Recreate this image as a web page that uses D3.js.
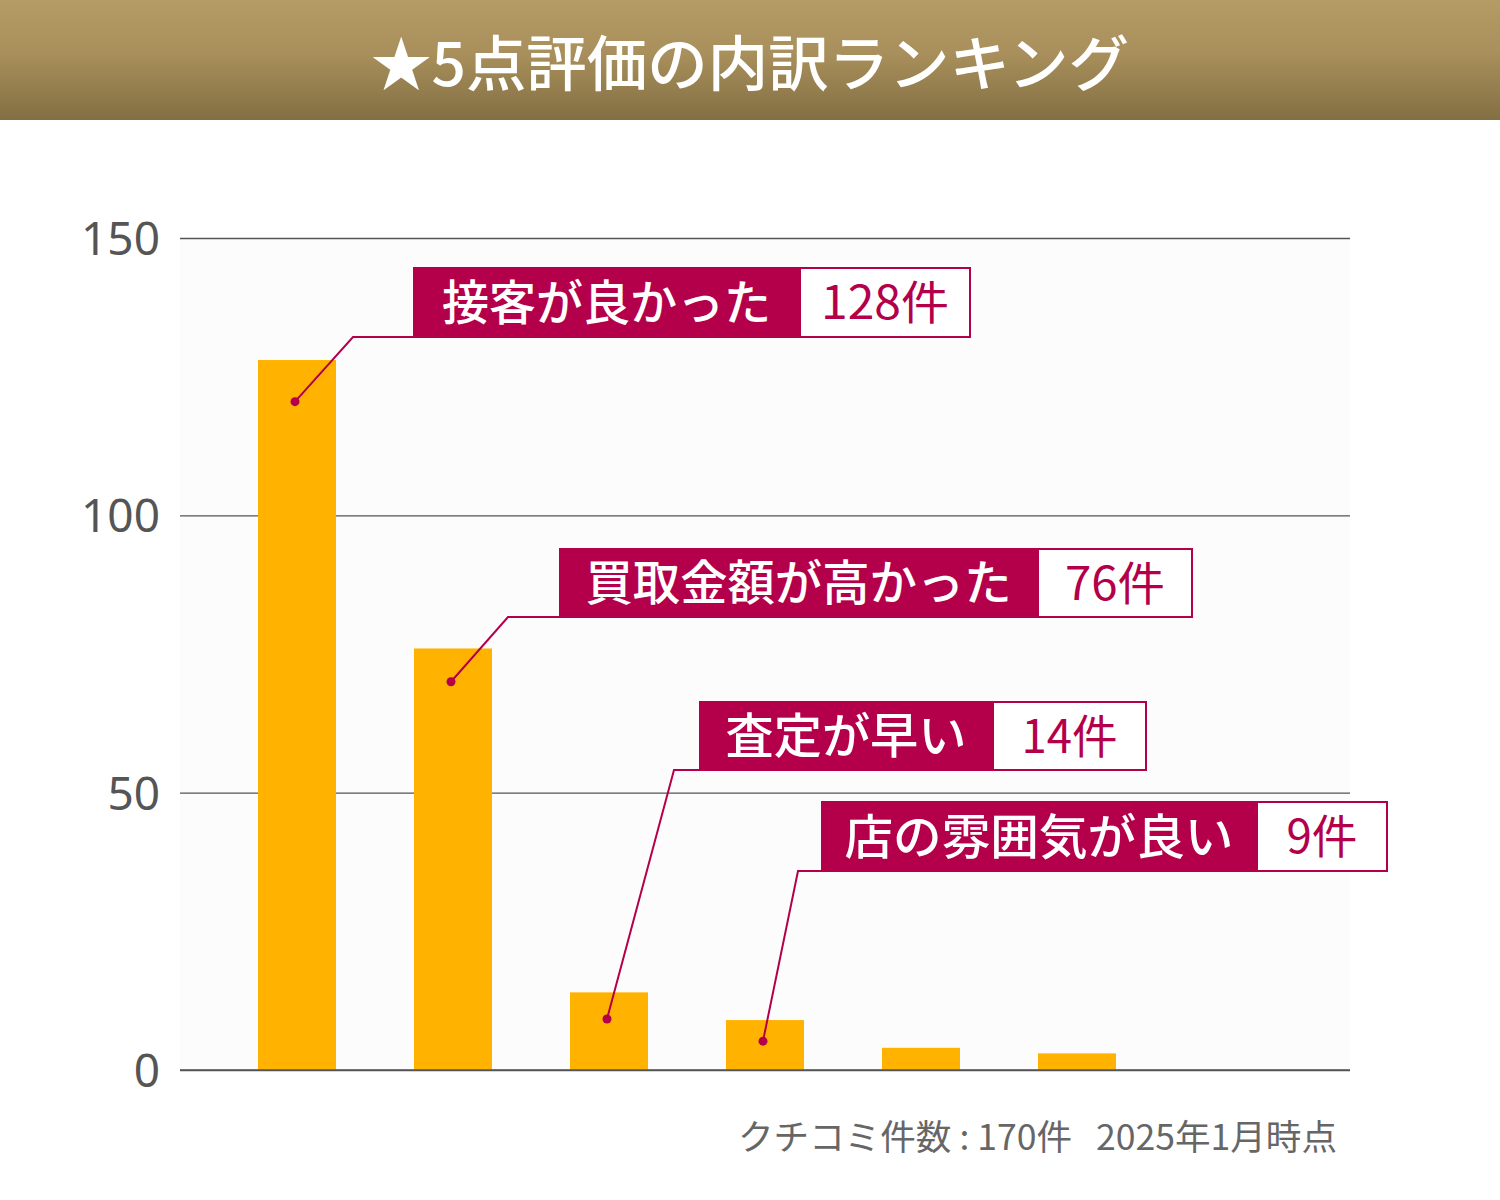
<!DOCTYPE html>
<html><head><meta charset="utf-8">
<script src="https://cdn.jsdelivr.net/npm/d3@7"></script>
<style>html,body{margin:0;padding:0;background:#fff;}svg{display:block;}</style>
</head><body>
<svg id="c" width="1500" height="1200"></svg>
<script>
// ---- data ----
const title = "★5点評価の内訳ランキング";
const ranks = ["1","2","3","4","5","6","7"];
const counts = [128, 76, 14, 9, 4, 3, 0];
const labelNames = ["接客が良かった","買取金額が高かった","査定が早い","店の雰囲気が良い"];
const labelCounts = ["128件","76件","14件","9件"];
const anchorValues = [120.5, 70, 9.2, 5.2];
const yTicks = [0, 50, 100, 150];
const footnote = "クチコミ件数 : 170件   2025年1月時点";

// ---- layout (pixels) ----
const boxLayout = [
  {x:413, y:268, w1:387, w2:170, h:69, elbowX:353},
  {x:559, y:549, w1:479, w2:154, h:68, elbowX:508},
  {x:699, y:702, w1:294, w2:153, h:68, elbowX:674},
  {x:821, y:802, w1:436, w2:130, h:69, elbowX:798}
];
const textWidths = [{t:329,n:128},{t:426,n:100},{t:241,n:96},{t:389,n:71}];

const FONT = "'Noto Sans CJK JP','Noto Sans',sans-serif";
const MAG = "#b4004a";
const svg = d3.select("#c");

// header
const defs = svg.append("defs");
const g = defs.append("linearGradient").attr("id","hdr").attr("x1",0).attr("y1",0).attr("x2",0).attr("y2",1);
g.append("stop").attr("offset","0%").attr("stop-color","#b59c66");
g.append("stop").attr("offset","45%").attr("stop-color","#a88f5b");
g.append("stop").attr("offset","100%").attr("stop-color","#836f43");
svg.append("rect").attr("x",0).attr("y",0).attr("width",1500).attr("height",120).attr("fill","url(#hdr)");
svg.append("text").attr("x",750).attr("y",86).attr("text-anchor","middle")
  .attr("font-family",FONT).attr("font-size",60).attr("font-weight",500).attr("fill","#fff")
  .attr("textLength",758).attr("lengthAdjust","spacingAndGlyphs").text(title);

// scales
const x = d3.scaleBand().domain(ranks).range([180,1350]).paddingInner(0.5).paddingOuter(0.5);
const y = d3.scaleLinear().domain([0,150]).range([1070,238]);

// plot bg
svg.append("rect").attr("x",180).attr("y",y(150)).attr("width",1170).attr("height",y(0)-y(150)).attr("fill","#fcfcfc");

// grid
const axis = d3.axisLeft(y).tickValues(yTicks).tickSize(-1170).tickPadding(20).tickFormat(d3.format("d"));
const ga = svg.append("g").attr("transform","translate(180,0)").call(axis);
ga.select(".domain").remove();
ga.selectAll(".tick line").attr("stroke","#555").attr("stroke-width",1.3);
ga.selectAll(".tick text").attr("font-family","'Noto Sans','Open Sans',sans-serif").attr("font-size",46).attr("fill","#555").attr("dy","0.36em");

// bars
svg.append("g").selectAll("rect").data(counts).join("rect")
  .attr("x",(d,i)=>x(ranks[i])).attr("width",x.bandwidth())
  .attr("y",d=>y(d)).attr("height",d=>y(0)-y(d)).attr("fill","#ffb300");

// redraw baseline above bars
svg.append("line").attr("x1",180).attr("x2",1350).attr("y1",y(0)).attr("y2",y(0)).attr("stroke","#555").attr("stroke-width",1.6);

// annotations
labelNames.forEach((name,i)=>{
  const L = boxLayout[i];
  const ax = x(ranks[i]) + x.bandwidth()/2 - 2;
  const ay = y(anchorValues[i]);
  const by = L.y + L.h;
  svg.append("polyline").attr("points",`${ax},${ay} ${L.elbowX},${by} ${L.x},${by}`)
    .attr("fill","none").attr("stroke",MAG).attr("stroke-width",2);
  svg.append("circle").attr("cx",ax).attr("cy",ay).attr("r",4.5).attr("fill",MAG);
  svg.append("rect").attr("x",L.x+L.w1).attr("y",L.y).attr("width",L.w2).attr("height",L.h)
    .attr("fill","#fff").attr("stroke",MAG).attr("stroke-width",2);
  svg.append("rect").attr("x",L.x).attr("y",L.y-1).attr("width",L.w1+1).attr("height",L.h+2).attr("fill",MAG);
  svg.append("text").attr("x",L.x+L.w1/2).attr("y",L.y+L.h/2).attr("dy","0.36em").attr("text-anchor","middle")
    .attr("font-family",FONT).attr("font-size",48).attr("font-weight",500).attr("fill","#fff")
    .attr("textLength",textWidths[i].t).attr("lengthAdjust","spacingAndGlyphs").text(name);
  svg.append("text").attr("x",L.x+L.w1+L.w2/2).attr("y",L.y+L.h/2).attr("dy","0.36em").attr("text-anchor","middle")
    .attr("font-family",FONT).attr("font-size",46).attr("font-weight",400).attr("fill",MAG)
    .attr("textLength",textWidths[i].n).attr("lengthAdjust","spacingAndGlyphs").text(labelCounts[i]);
});

// footnote
svg.append("text").attr("x",1337).attr("y",1150).attr("text-anchor","end")
  .attr("font-family",FONT).attr("font-size",35).attr("fill","#666")
  .style("white-space","pre")
  .attr("textLength",599).attr("lengthAdjust","spacingAndGlyphs").text(footnote);
</script>
</body></html>
